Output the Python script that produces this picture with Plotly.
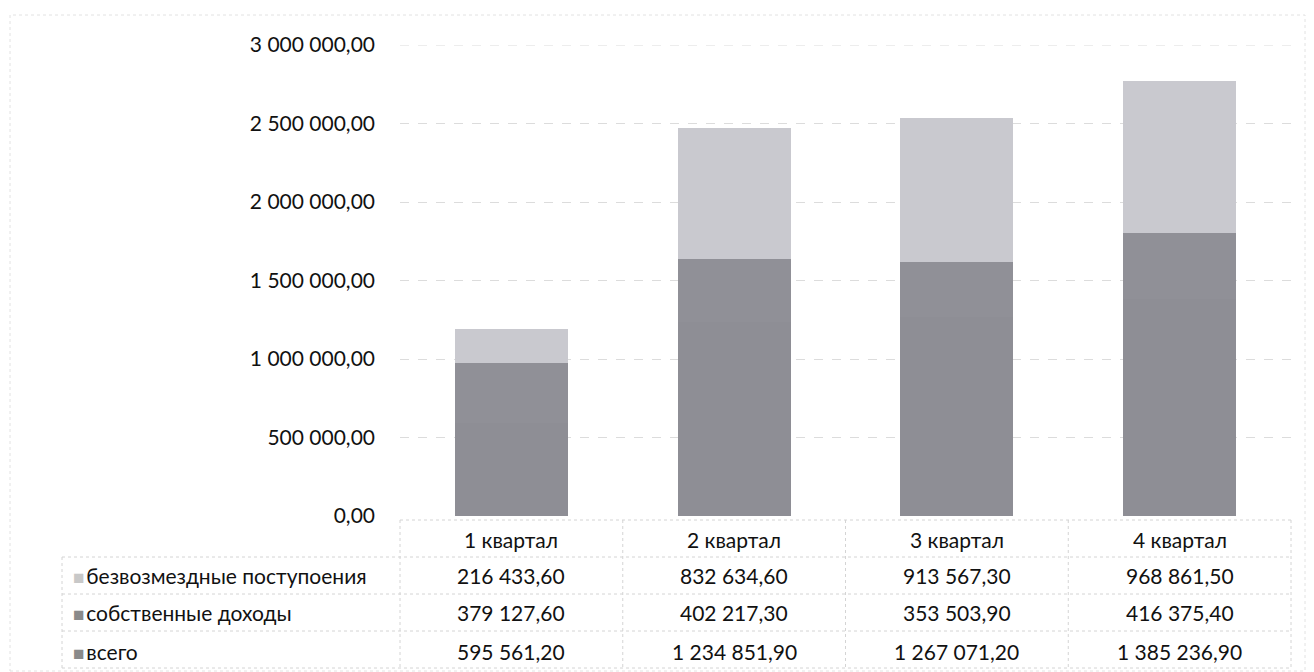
import plotly.graph_objects as go

categories = ["1 квартал", "2 квартал", "3 квартал", "4 квартал"]
series_names = ["всего", "собственные доходы", "безвозмездные поступоения"]
vsego = [595561.20, 1234851.90, 1267071.20, 1385236.90]
sobstv = [379127.60, 402217.30, 353503.90, 416375.40]
bezvozm = [216433.60, 832634.60, 913567.30, 968861.50]
colors = ["#8e8e95", "#909097", "#c9c9cf"]
legend_colors = ["#8a8a8a", "#8a8a8a", "#c8c8c8"]
y_ticks = [0, 500000, 1000000, 1500000, 2000000, 2500000, 3000000]

OFF = 8  # page body margin in the browser
W, H = 1314 - OFF, 672 - OFF
# screen-pixel geometry of the plot area
SL, SR, ST, SB = 400, 1291, 45, 516
L, R, T, B = SL - OFF, SR - OFF, ST - OFF, SB - OFF
FONT = "Lato"
FS = 21

def px_x(px):
    return (px - OFF - L) / (R - L)

def px_y(py):
    return (B - (py - OFF)) / (B - T)

def fmt(v):
    s = f"{v:,.2f}"
    return s.replace(",", " ").replace(".", ",")

fig = go.Figure()
series_vals = [vsego, sobstv, bezvozm]
for name, vals, col in zip(series_names, series_vals, colors):
    fig.add_trace(go.Bar(x=list(range(len(categories))), y=vals, name=name,
                         marker=dict(color=col, line=dict(width=0)), width=0.507))

fig.update_layout(
    barmode="stack", width=W, height=H,
    margin=dict(l=L, r=W - R, t=T, b=H - B),
    paper_bgcolor="white", plot_bgcolor="white",
    separators=", ",
    showlegend=False,
    font=dict(family=FONT, size=FS, color="#111111"),
    xaxis=dict(range=[-0.5, 3.5], showticklabels=False, showgrid=False, zeroline=False,
               fixedrange=True),
    yaxis=dict(range=[0, 3000000], tickvals=y_ticks, tickformat=",.2f",
               gridcolor="#dcdcdc", griddash="dash", gridwidth=1, zeroline=False,
               ticklabelstandoff=24, tickfont=dict(size=FS, family=FONT, color="#111111")),
)

annotations = []
shapes = []
line_style = dict(color="#d4d4d4", width=1, dash="dot")

# top gridline
shapes.append(dict(type="line", xref="paper", yref="y", x0=0, x1=1, y0=y_ticks[-1], y1=y_ticks[-1],
                   line=dict(color="#dcdcdc", width=1, dash="dash")))
# faint chart border
shapes.append(dict(type="rect", xref="paper", yref="paper", x0=px_x(10), x1=px_x(1305),
                   y0=px_y(671), y1=px_y(15), line=dict(color="#e2e2e2", width=1, dash="dot")))

# category header row
for i, c in enumerate(categories):
    annotations.append(dict(x=i, y=px_y(539), xref="x", yref="paper", text=c, yanchor="middle",
                            showarrow=False, font=dict(size=FS, family=FONT)))
# table rows (top row = last series)
row_y = [651, 612, 575]
for name, vals, lc, ry in zip(series_names, series_vals, legend_colors, row_y):
    annotations.append(dict(x=px_x(71), y=px_y(ry), xref="paper", yref="paper",
                            text=f"<span style='color:{lc};font-size:19px'>■</span><span style='font-size:7px'> </span>{name}",
                            xanchor="left", yanchor="middle",
                            showarrow=False, font=dict(size=FS, family=FONT)))
    for i, v in enumerate(vals):
        annotations.append(dict(x=i, y=px_y(ry), xref="x", yref="paper", text=fmt(v),
                                yanchor="middle",
                                showarrow=False, font=dict(size=FS, family=FONT)))

# table grid lines
for hy in [557, 594, 631, 668]:
    shapes.append(dict(type="line", xref="paper", yref="paper", x0=px_x(62), x1=1,
                       y0=px_y(hy), y1=px_y(hy), line=line_style))
shapes.append(dict(type="line", xref="paper", yref="paper", x0=0, x1=1,
                   y0=px_y(520), y1=px_y(520), line=line_style))
for k in range(len(categories) + 1):
    vx = k / len(categories)
    shapes.append(dict(type="line", xref="paper", yref="paper", x0=vx, x1=vx,
                       y0=px_y(520), y1=px_y(668), line=line_style))
shapes.append(dict(type="line", xref="paper", yref="paper", x0=px_x(62), x1=px_x(62),
                   y0=px_y(557), y1=px_y(668), line=line_style))

fig.update_layout(annotations=annotations, shapes=shapes)
fig.write_html("out.html")
